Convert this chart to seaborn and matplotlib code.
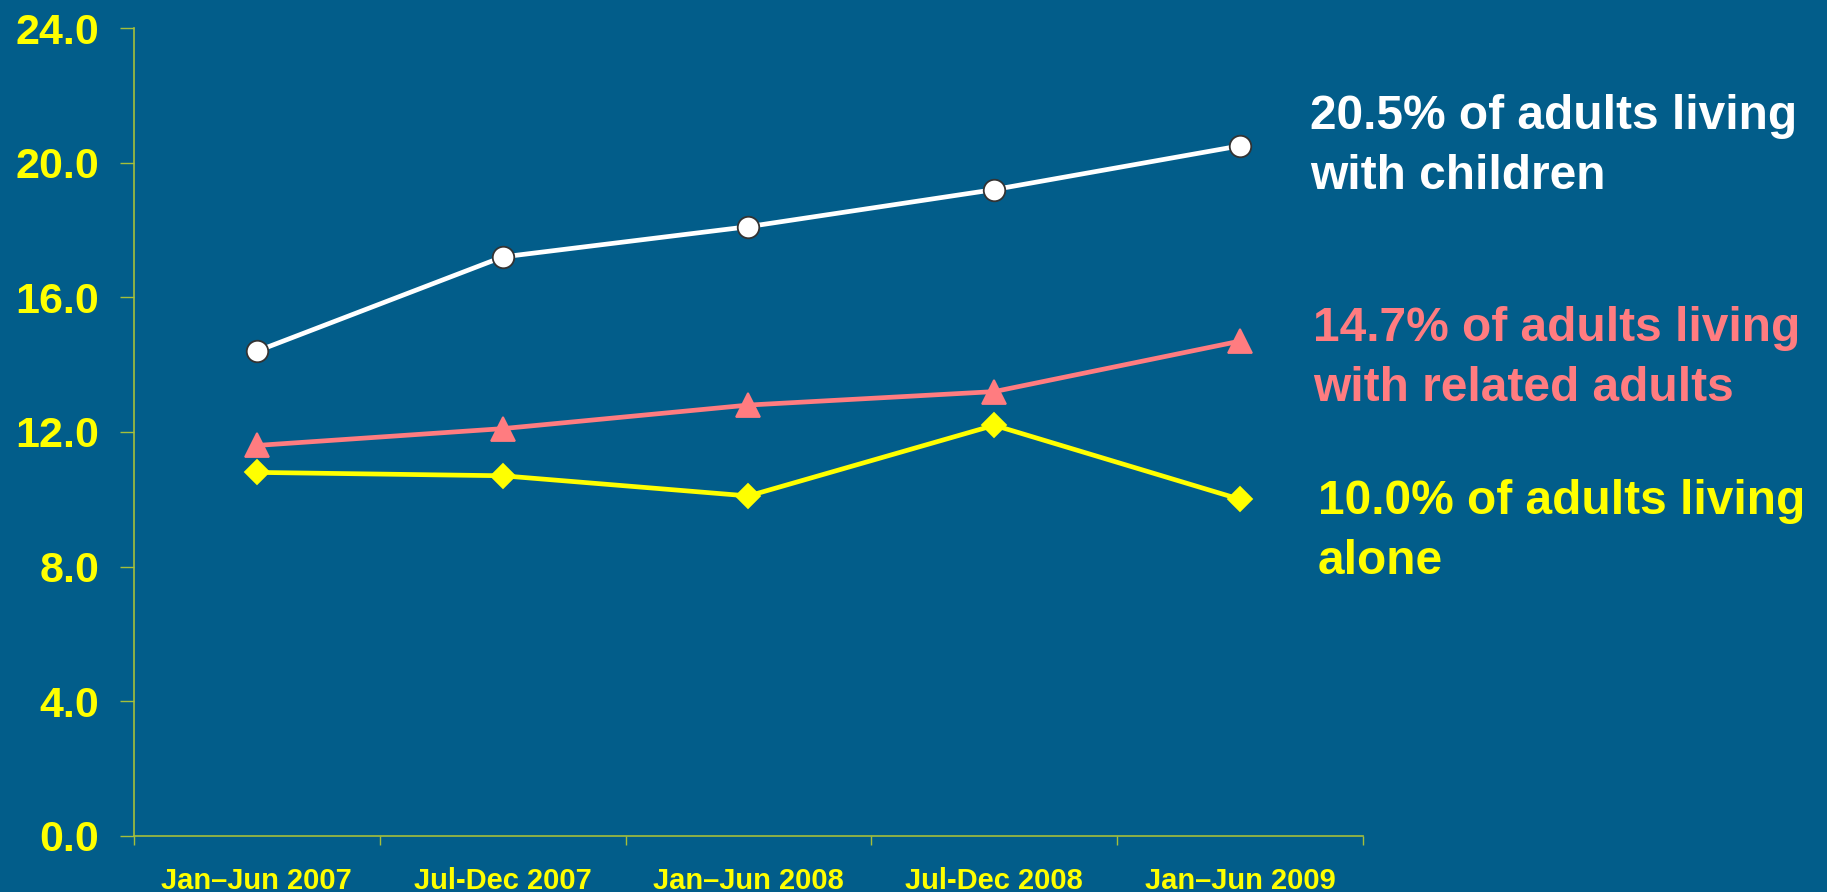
import matplotlib
matplotlib.use("Agg")
import matplotlib.pyplot as plt
import seaborn as sns
import pandas as pd

# Survey periods and the share of adults (%) in each household type
periods = ["Jan\u2013Jun 2007", "Jul-Dec 2007", "Jan\u2013Jun 2008", "Jul-Dec 2008", "Jan\u2013Jun 2009"]
with_children = [14.4, 17.2, 18.1, 19.2, 20.5]
with_related_adults = [11.6, 12.1, 12.8, 13.2, 14.7]
living_alone = [10.8, 10.7, 10.1, 12.2, 10.0]
y_ticks = [0.0, 4.0, 8.0, 12.0, 16.0, 20.0, 24.0]

BG = "#025D8A"
AXIS = "#A6BF3A"
YELLOW = "#FFFF00"
PINK = "#FF7C80"
WHITE = "#FFFFFF"

sns.set_theme(style="white")
plt.rcParams["font.family"] = ["Liberation Sans", "DejaVu Sans"]
plt.rcParams["font.weight"] = "bold"

fig = plt.figure(figsize=(18.27, 8.92), dpi=100, facecolor=BG)
ax = fig.add_axes([0.0733, 0.0628, 0.6727, 0.9058])
ax.set_facecolor(BG)

pos = list(range(len(periods)))
series = [
    (with_children, WHITE, "o", 15.5, "#333333"),
    (with_related_adults, PINK, "^", 17, PINK),
    (living_alone, YELLOW, "D", 12.5, YELLOW),
]
for values, color, marker, ms, edge in series:
    df = pd.DataFrame({"x": pos, "y": values})
    sns.lineplot(data=df, x="x", y="y", ax=ax, color=color, linewidth=3.4,
                 marker=marker, markersize=ms, markerfacecolor=color,
                 markeredgecolor=edge, markeredgewidth=1.3, zorder=3)

ax.set_xlim(-0.5, len(periods) - 0.5)
ax.set_ylim(0, 24)
ax.set_xlabel("")
ax.set_ylabel("")

# Category boundaries carry the ticks; labels sit at category centres
ax.set_xticks([p - 0.5 for p in range(len(periods) + 1)])
ax.set_xticklabels([])
ax.set_xticks(pos, minor=True)
ax.set_xticklabels(periods, minor=True)
ax.tick_params(axis="x", which="major", direction="out", length=6.5, width=1,
               color=AXIS, bottom=True)
ax.tick_params(axis="x", which="minor", length=0, pad=22, labelsize=21,
               labelcolor=YELLOW)

ax.set_yticks(y_ticks)
ax.set_yticklabels([f"{v:.1f}" for v in y_ticks])
ax.tick_params(axis="y", direction="out", length=10, width=1, color=AXIS,
               left=True, pad=15, labelsize=31, labelcolor=YELLOW)
for lbl in ax.get_xticklabels(minor=True) + ax.get_yticklabels():
    lbl.set_fontweight("bold")

for side in ["top", "right"]:
    ax.spines[side].set_visible(False)
for side in ["left", "bottom"]:
    ax.spines[side].set_visible(True)
    ax.spines[side].set_color(AXIS)
    ax.spines[side].set_linewidth(1.2)
ax.grid(False)

# Series labels to the right of the plot
labels = [
    ("20.5% of adults living\nwith children", WHITE, 1310, 94),
    ("14.7% of adults living\nwith related adults", PINK, 1313, 306),
    ("10.0% of adults living\nalone", YELLOW, 1318, 479),
]
for text, color, px, py in labels:
    fig.text(px / 1827, 1 - py / 892, text, color=color, fontsize=34.5,
             fontweight="bold", ha="left", va="top", linespacing=1.42)

fig.savefig("out.png", dpi=100, facecolor=BG)
